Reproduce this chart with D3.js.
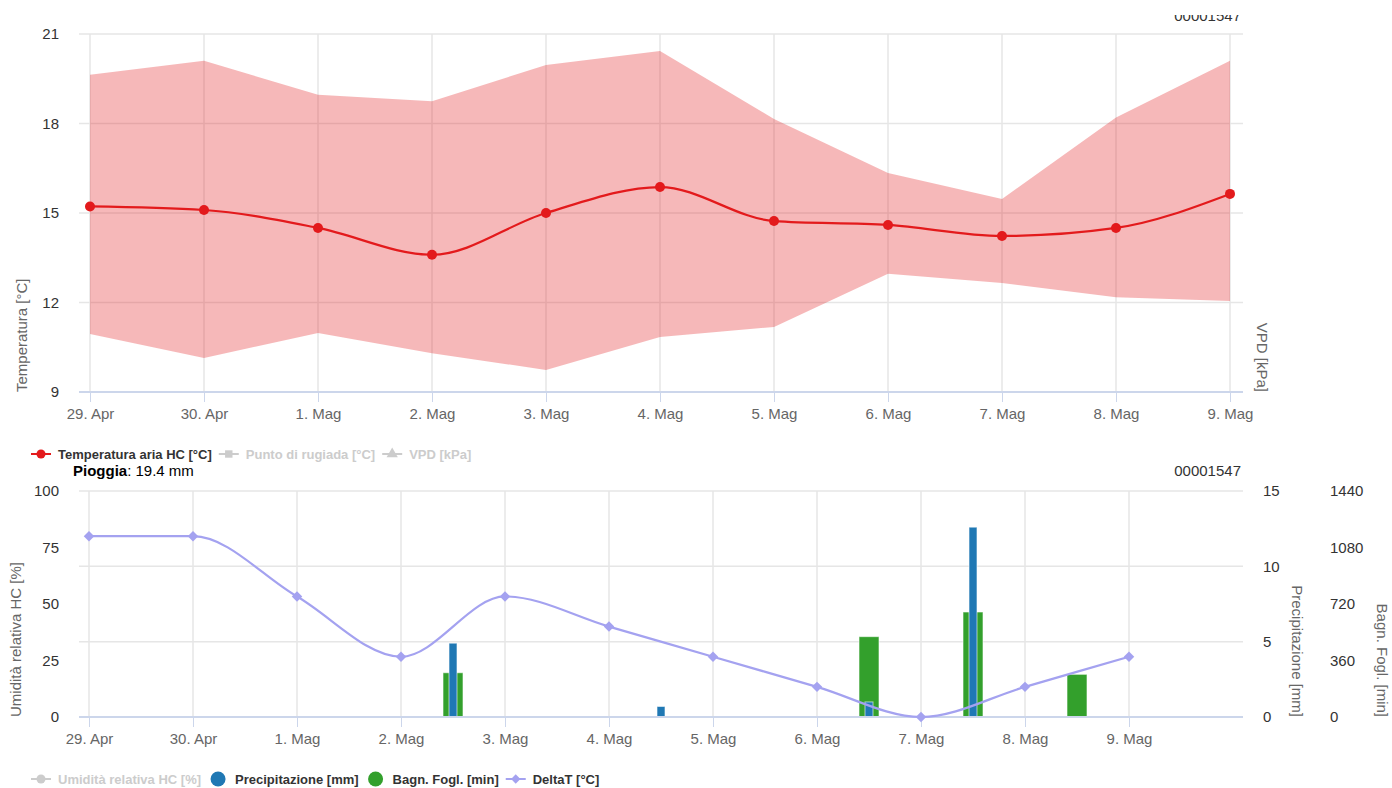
<!DOCTYPE html>
<meta charset="utf-8">
<script src="https://d3js.org/d3.v7.min.js"></script>
<style>
  body { margin: 0; background: #fff; }
  text { font-family: "Liberation Sans", Arial, sans-serif; }
</style>
<div id="my_dataviz"></div>
<script>

// ---- data ----
var days = ["2024-04-29 00:00", "2024-04-30 00:00", "2024-05-01 00:00", "2024-05-02 00:00",
            "2024-05-03 00:00", "2024-05-04 00:00", "2024-05-05 00:00", "2024-05-06 00:00",
            "2024-05-07 00:00", "2024-05-08 00:00", "2024-05-09 00:00"];
var tempMean = [15.22, 15.1, 14.5, 13.6, 15.0, 15.87, 14.73, 14.6, 14.23, 14.5, 15.64];
var tempMax  = [19.63, 20.1, 18.96, 18.75, 19.96, 20.43, 18.15, 16.34, 15.47, 18.2, 20.1];
var tempMin  = [10.94, 10.14, 10.98, 10.3, 9.74, 10.84, 11.18, 12.96, 12.65, 12.18, 12.05];
var deltaT   = [12, 12, 8, 4, 8, 6, 4, 2, 0, 2, 4];

var rainTimes  = ["2024-05-02 12:00", "2024-05-04 12:00", "2024-05-06 12:00", "2024-05-07 12:00"];
var rainValues = [4.9, 0.7, 1.0, 12.6];
var wetTimes   = ["2024-05-02 12:00", "2024-05-06 12:00", "2024-05-07 12:00", "2024-05-08 12:00"];
var wetValues  = [282, 512, 669, 272];

var tempTicks = [9, 12, 15, 18, 21];
var humTicks  = [0, 25, 50, 75, 100];
var rainTicks = [0, 5, 10, 15];
var wetTicks  = [0, 360, 720, 1080, 1440];
var monthNames = ["Gen", "Feb", "Mar", "Apr", "Mag", "Giu", "Lug", "Ago", "Set", "Ott", "Nov", "Dic"];

var parse = d3.timeParse("%Y-%m-%d %H:%M");
var dates = days.map(parse);
var fmt = function(d) { return d.getDate() + ". " + monthNames[d.getMonth()]; };

var red = "#e31a1c", blue = "#1f78b4", green = "#33a02c", lilac = "#a4a2f0";
var gridCol = "#e6e6e6", axisCol = "#ccd6eb";

var svg = d3.select("#my_dataviz").append("svg")
  .attr("width", 1392).attr("height", 788);

var L = 79, R = 1243;

// ================= TOP CHART =================
var T1 = 34, B1 = 392;
var x1 = d3.scaleTime().domain([dates[0], dates[10]]).range([90, 1230]);
var yT = d3.scaleLinear().domain([9, 21]).range([B1, T1]);

// id text at the very top, only its lower half shows
svg.append("clipPath").attr("id", "topclip")
  .append("rect").attr("x", 1100).attr("y", 15).attr("width", 200).attr("height", 20);
svg.append("text").attr("x", 1241).attr("y", 21).attr("text-anchor", "end")
  .attr("clip-path", "url(#topclip)")
  .style("font-size", "15px").attr("fill", "#333").text("00001547");

var g1 = svg.append("g");
// horizontal grid
g1.selectAll(".hg").data(tempTicks.slice(1)).enter().append("line")
  .attr("x1", L).attr("x2", R)
  .attr("y1", function(d) { return yT(d); }).attr("y2", function(d) { return yT(d); })
  .attr("stroke", gridCol).attr("stroke-width", 1.5);
// vertical grid
g1.selectAll(".vg").data(dates).enter().append("line")
  .attr("x1", function(d) { return x1(d); }).attr("x2", function(d) { return x1(d); })
  .attr("y1", T1).attr("y2", B1)
  .attr("stroke", gridCol).attr("stroke-width", 1.5);

// min-max band
var band = dates.map(function(d, i) { return {d: d, lo: tempMin[i], hi: tempMax[i], m: tempMean[i]}; });
g1.append("path").datum(band)
  .attr("d", d3.area().x(function(d) { return x1(d.d); })
    .y0(function(d) { return yT(d.lo); }).y1(function(d) { return yT(d.hi); }))
  .attr("fill", red).attr("fill-opacity", 0.31);

// x axis
g1.append("line").attr("x1", L).attr("x2", R).attr("y1", B1).attr("y2", B1)
  .attr("stroke", axisCol).attr("stroke-width", 2);
var ax1 = g1.append("g").attr("transform", "translate(0," + B1 + ")")
  .call(d3.axisBottom(x1).tickValues(dates).tickFormat(fmt).tickSize(10).tickPadding(6));
ax1.select(".domain").remove();
ax1.selectAll(".tick line").attr("stroke", axisCol);
ax1.selectAll(".tick text").attr("fill", "#666").style("font-size", "15px")
  .style("font-family", "Liberation Sans, Arial, sans-serif");

// left axis
var ay1 = g1.append("g").attr("transform", "translate(60,0)")
  .call(d3.axisLeft(yT).tickValues(tempTicks).tickSize(0).tickPadding(1));
ay1.select(".domain").remove();
ay1.selectAll(".tick text").attr("fill", "#333").style("font-size", "15px")
  .style("font-family", "Liberation Sans, Arial, sans-serif");

g1.append("text").attr("transform", "translate(27," + B1 + ") rotate(-90)")
  .attr("fill", "#666").style("font-size", "15px").text("Temperatura [°C]");
g1.append("text").attr("transform", "translate(1257," + B1 + ") rotate(90)")
  .attr("text-anchor", "end").attr("fill", "#666").style("font-size", "15px").text("VPD [kPa]");

// mean line
g1.append("path").datum(band)
  .attr("d", d3.line().curve(d3.curveMonotoneX)
    .x(function(d) { return x1(d.d); }).y(function(d) { return yT(d.m); }))
  .attr("fill", "none").attr("stroke", red).attr("stroke-width", 2.2);
g1.selectAll(".dot").data(band).enter().append("circle")
  .attr("cx", function(d) { return x1(d.d); }).attr("cy", function(d) { return yT(d.m); })
  .attr("r", 5).attr("fill", red);

// legend helper
function legend(y, items) {
  var cur = 31;
  items.forEach(function(it) {
    var col = it.on ? it.color : "#cccccc";
    var g = svg.append("g");
    var cx = cur + 10;
    if (it.line) {
      g.append("line").attr("x1", cur).attr("x2", cur + 20).attr("y1", y).attr("y2", y)
        .attr("stroke", col).attr("stroke-width", 2);
    }
    if (it.sym === "circle") {
      g.append("circle").attr("cx", cx).attr("cy", y).attr("r", it.line ? 4.5 : 7.5).attr("fill", col);
    } else {
      var s = {square: d3.symbolSquare, triangle: d3.symbolTriangle, diamond: d3.symbolDiamond2}[it.sym];
      g.append("path").attr("d", d3.symbol().type(s).size(55)())
        .attr("transform", "translate(" + cx + "," + y + ")").attr("fill", col);
    }
    var t = g.append("text").attr("x", cur + 27).attr("y", y + 5)
      .style("font-size", "13px").style("font-weight", "bold")
      .attr("fill", it.on ? "#333" : "#cccccc").text(it.label);
    cur = cur + 27 + t.node().getComputedTextLength() + 7;
  });
}

legend(454, [
  {label: "Temperatura aria HC [°C]", color: red, sym: "circle", line: true, on: true},
  {label: "Punto di rugiada [°C]", color: "#ccc", sym: "square", line: true, on: false},
  {label: "VPD [kPa]", color: "#ccc", sym: "triangle", line: true, on: false}
]);

var rainTxt = svg.append("text").attr("x", 73).attr("y", 476).style("font-size", "15px").attr("fill", "#000");
rainTxt.append("tspan").style("font-weight", "bold").text("Pioggia");
rainTxt.append("tspan").text(": 19.4 mm");

// ================= BOTTOM CHART =================
var T2 = 491, B2 = 717;
var x2 = d3.scaleTime().domain([dates[0], dates[10]]).range([89, 1129]);
var yH = d3.scaleLinear().domain([0, 100]).range([B2, T2]);
var yR = d3.scaleLinear().domain([0, 15]).range([B2, T2]);
var yW = d3.scaleLinear().domain([0, 1440]).range([B2, T2]);
var yD = d3.scaleLinear().domain([0, 15]).range([B2, T2]);

svg.append("text").attr("x", 1241).attr("y", 476).attr("text-anchor", "end")
  .style("font-size", "15px").attr("fill", "#333").text("00001547");

var g2 = svg.append("g");
g2.selectAll(".hg").data(rainTicks.slice(1)).enter().append("line")
  .attr("x1", L).attr("x2", R)
  .attr("y1", function(d) { return yR(d); }).attr("y2", function(d) { return yR(d); })
  .attr("stroke", gridCol).attr("stroke-width", 1.5);
g2.selectAll(".vg").data(dates).enter().append("line")
  .attr("x1", function(d) { return x2(d); }).attr("x2", function(d) { return x2(d); })
  .attr("y1", T2).attr("y2", B2)
  .attr("stroke", gridCol).attr("stroke-width", 1.5);

// bars
var wet = wetTimes.map(function(t, i) { return {d: parse(t), v: wetValues[i]}; });
var rain = rainTimes.map(function(t, i) { return {d: parse(t), v: rainValues[i]}; });
g2.selectAll(".wet").data(wet).enter().append("rect")
  .attr("x", function(d) { return x2(d.d) - 10; }).attr("width", 20)
  .attr("y", function(d) { return yW(d.v); }).attr("height", function(d) { return B2 - yW(d.v); })
  .attr("fill", green).attr("stroke", "#fff").attr("stroke-opacity", 0.6).attr("stroke-width", 1);
g2.selectAll(".rain").data(rain).enter().append("rect")
  .attr("x", function(d) { return x2(d.d) - 4; }).attr("width", 8)
  .attr("y", function(d) { return yR(d.v); }).attr("height", function(d) { return B2 - yR(d.v); })
  .attr("fill", blue).attr("stroke", "#fff").attr("stroke-opacity", 0.6).attr("stroke-width", 1);

// x axis
g2.append("line").attr("x1", L).attr("x2", R).attr("y1", B2).attr("y2", B2)
  .attr("stroke", axisCol).attr("stroke-width", 2);
var ax2 = g2.append("g").attr("transform", "translate(0," + B2 + ")")
  .call(d3.axisBottom(x2).tickValues(dates).tickFormat(fmt).tickSize(10).tickPadding(6));
ax2.select(".domain").remove();
ax2.selectAll(".tick line").attr("stroke", axisCol);
ax2.selectAll(".tick text").attr("fill", "#666").style("font-size", "15px")
  .style("font-family", "Liberation Sans, Arial, sans-serif");

// left humidity axis
var ay2 = g2.append("g").attr("transform", "translate(60,0)")
  .call(d3.axisLeft(yH).tickValues(humTicks).tickSize(0).tickPadding(1));
ay2.select(".domain").remove();
ay2.selectAll(".tick text").attr("fill", "#333").style("font-size", "15px")
  .style("font-family", "Liberation Sans, Arial, sans-serif");
g2.append("text").attr("transform", "translate(21," + B2 + ") rotate(-90)")
  .attr("fill", "#666").style("font-size", "15px").text("Umidità relativa HC [%]");

// right rain axis
var ar = g2.append("g").attr("transform", "translate(1262,0)")
  .call(d3.axisRight(yR).tickValues(rainTicks).tickSize(0).tickPadding(1));
ar.select(".domain").remove();
ar.selectAll(".tick text").attr("fill", "#333").style("font-size", "15px")
  .style("font-family", "Liberation Sans, Arial, sans-serif");
g2.append("text").attr("transform", "translate(1292," + B2 + ") rotate(90)")
  .attr("text-anchor", "end").attr("fill", "#666").style("font-size", "15px").text("Precipitazione [mm]");

// right wetness axis
var aw = g2.append("g").attr("transform", "translate(1329,0)")
  .call(d3.axisRight(yW).tickValues(wetTicks).tickFormat(d3.format("d")).tickSize(0).tickPadding(1));
aw.select(".domain").remove();
aw.selectAll(".tick text").attr("fill", "#333").style("font-size", "15px")
  .style("font-family", "Liberation Sans, Arial, sans-serif");
g2.append("text").attr("transform", "translate(1377," + B2 + ") rotate(90)")
  .attr("text-anchor", "end").attr("fill", "#666").style("font-size", "15px").text("Bagn. Fogl. [min]");

// DeltaT line
var dt = dates.map(function(d, i) { return {d: d, v: deltaT[i]}; });
g2.append("path").datum(dt)
  .attr("d", d3.line().curve(d3.curveMonotoneX)
    .x(function(d) { return x2(d.d); }).y(function(d) { return yD(d.v); }))
  .attr("fill", "none").attr("stroke", lilac).attr("stroke-width", 2.2);
g2.selectAll(".dia").data(dt).enter().append("path")
  .attr("d", d3.symbol().type(d3.symbolDiamond2).size(70)())
  .attr("transform", function(d) { return "translate(" + x2(d.d) + "," + yD(d.v) + ")"; })
  .attr("fill", lilac);

legend(779, [
  {label: "Umidità relativa HC [%]", color: "#ccc", sym: "circle", line: true, on: false},
  {label: "Precipitazione [mm]", color: blue, sym: "circle", line: false, on: true},
  {label: "Bagn. Fogl. [min]", color: green, sym: "circle", line: false, on: true},
  {label: "DeltaT [°C]", color: lilac, sym: "diamond", line: true, on: true}
]);

</script>
